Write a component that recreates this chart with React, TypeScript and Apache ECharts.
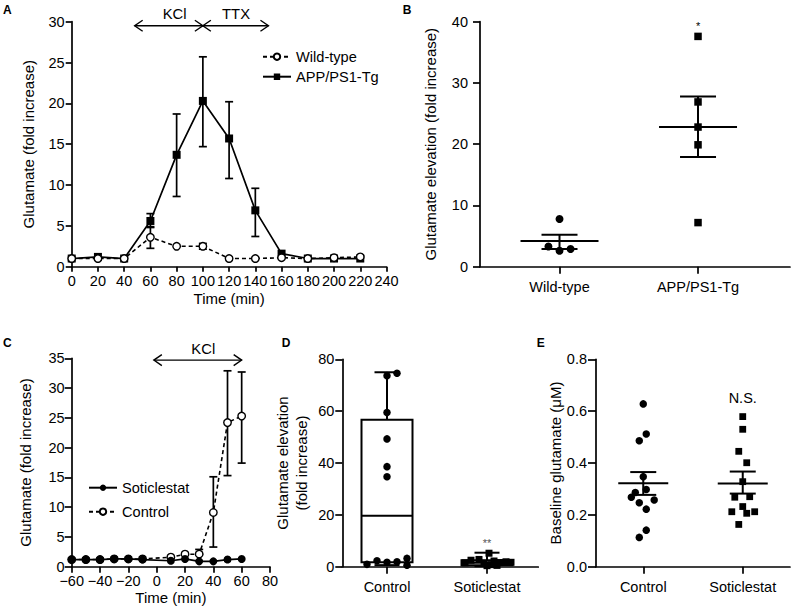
import React, { useEffect, useRef } from 'react';
import * as echarts from 'echarts';

const FONT = '"Liberation Sans", Arial, Helvetica, sans-serif';
const INK = '#000';

// ---------- Panel A ----------
const timeA = [0, 20, 40, 60, 80, 100, 120, 140, 160, 180, 200, 220];
const appMeanA = [1.0, 1.2, 1.0, 5.6, 13.7, 20.3, 15.7, 6.9, 1.6, 1.0, 1.0, 1.0];
const appLowA = [null, null, null, 4.8, 8.6, 14.7, 10.8, 3.7, null, null, null, null];
const appHighA = [null, null, null, 6.5, 18.7, 25.7, 20.2, 9.6, null, null, null, null];
const wtMeanA = [1.0, 1.0, 1.0, 3.6, 2.5, 2.5, 1.0, 1.0, 1.1, 1.0, 1.1, 1.2];
const wtLowA = [null, null, null, 2.25, null, 2.15, null, null, null, null, null, null];
const wtHighA = [null, null, null, 4.9, null, 2.85, null, null, null, null, null, null];
const arrowLabelsA = ['KCl', 'TTX'];
const arrowFromA = [48, 100];
const arrowToA = [100, 150];
const arrowLevelA = 29.5;
const arrowLabelXA = [78.5, 125.3];
const arrowLabelYA = 31.0;

// ---------- Panel B ----------
const groupsB = ['Wild-type', 'APP/PS1-Tg'];
const wtValuesB = [7.8, 3.3, 2.6, 2.9];
const wtJitterB = [0, -0.08, 0, 0.08];
const appValuesB = [37.6, 26.9, 22.8, 19.9, 7.2];
const appJitterB = [0, 0, 0, 0, 0];
const meanB = [4.2, 22.8];
const semLowB = [2.9, 17.9];
const semHighB = [5.2, 27.8];
const starB = ['*'];
const starPosB = [[2, 39.3]];

// ---------- Panel C ----------
const timeC = [-60, -50, -40, -30, -20, -10, 10, 20, 30, 40, 50, 60];
const sotiC = [1.2, 1.2, 1.2, 1.3, 1.3, 1.2, 1.0, 1.3, 0.9, 0.9, 1.2, 1.3];
const controlC = [1.2, 1.2, 1.2, 1.3, 1.3, 1.3, 1.6, 2.1, 2.1, 9.1, 24.2, 25.3];
const controlLowC = [null, null, null, null, null, null, null, null, 2.1, 3.3, 15.3, 17.4];
const controlHighC = [null, null, null, null, null, null, null, null, 2.9, 15.1, 32.9, 32.7];
const arrowLabelsC = ['KCl'];
const arrowFromC = [-2];
const arrowToC = [60];
const arrowLevelC = 34.7;
const arrowLabelXC = [32.9];
const arrowLabelYC = 36.6;

// ---------- Panel D ----------
const groupsDE = ['Control', 'Soticlestat'];
const ctrlValuesD = [74.6, 73.7, 59.5, 49.3, 38.6, 34.7, 0.9, 2.3, 1.7, 1.9, 3.2, 0.6];
const ctrlJitterD = [0.1, 0, 0, 0, 0, 0, -0.2, -0.1, 0, 0.1, 0.2, 0.2];
const sotiValuesD = [1.5, 2.5, 2.8, 1.3, 5.2, 0.4, 2.2, 0.8, 1.6, 0.5, 1.9, 1.7];
const sotiJitterD = [-0.22, -0.16, -0.08, -0.03, 0.02, 0.0, 0.07, 0.04, 0.13, 0.1, 0.19, 0.24];
// [min, q1, median, q3, max]
const boxCtrlD = [0.6, 1.7, 19.7, 56.7, 75.0];
const boxSotiD = [0.2, 0.6, 1.5, 2.5, 5.4];
const starD = ['**'];
const starPosD = [[2, 9.1]];

// ---------- Panel E ----------
const ctrlValuesE = [0.628, 0.512, 0.486, 0.347, 0.298, 0.286, 0.268, 0.247, 0.257, 0.222, 0.141, 0.113];
const ctrlJitterE = [0, 0.03, -0.04, 0, 0.03, -0.08, -0.12, -0.04, 0.11, 0.03, 0.03, -0.04];
const sotiValuesE = [0.579, 0.53, 0.445, 0.401, 0.328, 0.268, 0.27, 0.232, 0.212, 0.206, 0.212, 0.163];
const sotiJitterE = [0, 0, -0.04, 0.04, 0, -0.08, 0.07, 0, -0.11, 0.04, 0.12, -0.04];
const meanE = [0.322, 0.321];
const semLowE = [0.277, 0.282];
const semHighE = [0.365, 0.367];
const nsE = ['N.S.'];
const nsPosE = [[2, 0.65]];

// ---------- helpers ----------
const errData = (xs: number[], lo: (number | null)[], hi: (number | null)[]) =>
  xs.map((x, i) => (lo[i] == null ? null : [x, lo[i], hi[i]])).filter((d) => d !== null);

const errorBarRender = (cap: number, lw: number) => (params: any, api: any) => {
  const x = api.value(0);
  const a = api.coord([x, api.value(1)]);
  const b = api.coord([x, api.value(2)]);
  const st = { stroke: INK, lineWidth: lw };
  return {
    type: 'group',
    children: [
      { type: 'line', shape: { x1: a[0], y1: a[1], x2: b[0], y2: b[1] }, style: st },
      { type: 'line', shape: { x1: a[0] - cap, y1: a[1], x2: a[0] + cap, y2: a[1] }, style: st },
      { type: 'line', shape: { x1: b[0] - cap, y1: b[1], x2: b[0] + cap, y2: b[1] }, style: st },
    ],
  };
};

const meanSemRender = (half: number, cap: number, lw: number) => (params: any, api: any) => {
  const x = api.value(0);
  const m = api.coord([x, api.value(1)]);
  const a = api.coord([x, api.value(2)]);
  const b = api.coord([x, api.value(3)]);
  const st = { stroke: INK, lineWidth: lw };
  return {
    type: 'group',
    children: [
      { type: 'line', shape: { x1: m[0] - half, y1: m[1], x2: m[0] + half, y2: m[1] }, style: st },
      { type: 'line', shape: { x1: a[0], y1: a[1], x2: b[0], y2: b[1] }, style: st },
      { type: 'line', shape: { x1: a[0] - cap, y1: a[1], x2: a[0] + cap, y2: a[1] }, style: st },
      { type: 'line', shape: { x1: b[0] - cap, y1: b[1], x2: b[0] + cap, y2: b[1] }, style: st },
    ],
  };
};

const boxRender = (half: number, cap: number, lw: number) => (params: any, api: any) => {
  const x = api.value(0);
  const pMin = api.coord([x, api.value(1)]);
  const pQ1 = api.coord([x, api.value(2)]);
  const pMed = api.coord([x, api.value(3)]);
  const pQ3 = api.coord([x, api.value(4)]);
  const pMax = api.coord([x, api.value(5)]);
  const st = { stroke: INK, lineWidth: lw };
  const cx = pMed[0];
  return {
    type: 'group',
    children: [
      {
        type: 'rect',
        shape: { x: cx - half, y: pQ3[1], width: half * 2, height: pQ1[1] - pQ3[1] },
        style: { fill: 'rgba(0,0,0,0)', stroke: INK, lineWidth: lw },
      },
      { type: 'line', shape: { x1: cx - half, y1: pMed[1], x2: cx + half, y2: pMed[1] }, style: st },
      { type: 'line', shape: { x1: cx, y1: pQ3[1], x2: cx, y2: pMax[1] }, style: st },
      { type: 'line', shape: { x1: cx - cap, y1: pMax[1], x2: cx + cap, y2: pMax[1] }, style: st },
      { type: 'line', shape: { x1: cx, y1: pQ1[1], x2: cx, y2: pMin[1] }, style: st },
      { type: 'line', shape: { x1: cx - cap, y1: pMin[1], x2: cx + cap, y2: pMin[1] }, style: st },
    ],
  };
};

const arrowRender = (labels: string[]) => (params: any, api: any) => {
  const a = api.coord([api.value(0), api.value(2)]);
  const b = api.coord([api.value(1), api.value(2)]);
  const lp = api.coord([api.value(3), api.value(4)]);
  const st = { stroke: INK, lineWidth: 1.4, fill: null };
  const h = 5.5;
  const w = 8;
  return {
    type: 'group',
    children: [
      { type: 'line', shape: { x1: a[0], y1: a[1], x2: b[0], y2: b[1] }, style: st },
      { type: 'polyline', shape: { points: [[a[0] + w, a[1] - h], [a[0], a[1]], [a[0] + w, a[1] + h]] }, style: st },
      { type: 'polyline', shape: { points: [[b[0] - w, b[1] - h], [b[0], b[1]], [b[0] - w, b[1] + h]] }, style: st },
      {
        type: 'text',
        x: lp[0],
        y: lp[1],
        style: {
          text: labels[params.dataIndex],
          fontSize: 14.8,
          fontFamily: FONT,
          fill: INK,
          align: 'center',
          verticalAlign: 'middle',
        },
      },
    ],
  };
};

const textRender = (texts: string[], size: number, color: string) => (params: any, api: any) => {
  const p = api.coord([api.value(0), api.value(1)]);
  return {
    type: 'text',
    x: p[0],
    y: p[1],
    style: {
      text: texts[params.dataIndex],
      fontSize: size,
      fontFamily: FONT,
      fill: color,
      align: 'center',
      verticalAlign: 'middle',
    },
  };
};

const axisLineStyle = { show: true, onZero: false, lineStyle: { color: INK, width: 1.7 } };
const tick = (len: number, custom?: number[]) => ({
  show: true,
  length: len,
  lineStyle: { color: INK, width: 1.7 },
  ...(custom ? { customValues: custom } : {}),
});
const label = (margin: number, extra: any = {}) => ({
  color: INK,
  fontSize: 14.5,
  fontFamily: FONT,
  margin,
  ...extra,
});
const nameStyle = { color: INK, fontSize: 15, fontFamily: FONT };

function buildOption(): any {
  const grids = [
    { left: 71.7, top: 21.7, width: 314.8, height: 245 },
    { left: 480, top: 21.7, width: 310, height: 245 },
    { left: 71.7, top: 358.3, width: 198.3, height: 208.4 },
    { left: 342.3, top: 359.3, width: 196, height: 207.4 },
    { left: 596, top: 359.3, width: 194, height: 207.4 },
  ].map((g) => ({ ...g, containLabel: false, outerBoundsMode: 'none' }));

  const xAxis = [
    {
      type: 'value', gridIndex: 0, min: 0, max: 240, interval: 20,
      axisLine: axisLineStyle, axisTick: tick(5), axisLabel: label(7), splitLine: { show: false },
      name: 'Time (min)', nameLocation: 'middle', nameGap: 24, nameTextStyle: nameStyle,
    },
    {
      type: 'value', gridIndex: 1, min: 0.426, max: 2.664,
      axisLine: axisLineStyle, axisTick: tick(7, [1, 2]),
      axisLabel: label(13, { customValues: [1, 2], formatter: (v: number) => groupsB[Math.round(v) - 1] }),
      splitLine: { show: false },
    },
    {
      type: 'value', gridIndex: 2, min: -60, max: 80, interval: 20,
      axisLine: axisLineStyle, axisTick: tick(6),
      axisLabel: label(7, { formatter: (v: number) => (v < 0 ? '\u2212' + Math.abs(v) : String(v)) }),
      splitLine: { show: false },
      name: 'Time (min)', nameLocation: 'middle', nameGap: 19.5, nameTextStyle: nameStyle,
    },
    {
      type: 'value', gridIndex: 3, min: 0.553, max: 2.513,
      axisLine: axisLineStyle, axisTick: tick(7, [1, 2]),
      axisLabel: label(13, { customValues: [1, 2], formatter: (v: number) => groupsDE[Math.round(v) - 1] }),
      splitLine: { show: false },
    },
    {
      type: 'value', gridIndex: 4, min: 0.525, max: 2.475,
      axisLine: axisLineStyle, axisTick: tick(7, [1, 2]),
      axisLabel: label(13, { customValues: [1, 2], formatter: (v: number) => groupsDE[Math.round(v) - 1] }),
      splitLine: { show: false },
    },
  ];

  const yAxis = [
    {
      type: 'value', gridIndex: 0, min: 0, max: 30, interval: 5,
      axisLine: axisLineStyle, axisTick: tick(6), axisLabel: label(7), splitLine: { show: false },
      name: 'Glutamate (fold increase)', nameLocation: 'middle', nameGap: 36, nameTextStyle: nameStyle,
    },
    {
      type: 'value', gridIndex: 1, min: 0, max: 40, interval: 10,
      axisLine: axisLineStyle, axisTick: tick(7), axisLabel: label(12), splitLine: { show: false },
      name: 'Glutamate elevation (fold increase)', nameLocation: 'middle', nameGap: 42.5, nameTextStyle: nameStyle,
    },
    {
      type: 'value', gridIndex: 2, min: 0, max: 35, interval: 5,
      axisLine: axisLineStyle, axisTick: tick(7), axisLabel: label(7), splitLine: { show: false },
      name: 'Glutamate (fold increase)', nameLocation: 'middle', nameGap: 38.5, nameTextStyle: nameStyle,
    },
    {
      type: 'value', gridIndex: 3, min: 0, max: 80, interval: 20,
      axisLine: axisLineStyle, axisTick: tick(7), axisLabel: label(8), splitLine: { show: false },
      name: 'Glutamate elevation\n(fold increase)', nameLocation: 'middle', nameGap: 32,
      nameTextStyle: { ...nameStyle, lineHeight: 18.5 },
    },
    {
      type: 'value', gridIndex: 4, min: 0, max: 0.8, interval: 0.2,
      axisLine: axisLineStyle, axisTick: tick(8),
      axisLabel: label(9, { formatter: (v: number) => v.toFixed(1) }), splitLine: { show: false },
      name: 'Baseline glutamate (\u03bcM)', nameLocation: 'middle', nameGap: 32.5, nameTextStyle: nameStyle,
    },
  ];

  const openCircle = { color: '#fff', borderColor: INK, borderWidth: 1.4, opacity: 1 };
  const filled = { color: INK, opacity: 1 };

  const series: any[] = [
    // ---- A ----
    {
      name: 'APP/PS1-Tg', type: 'line', xAxisIndex: 0, yAxisIndex: 0,
      data: timeA.map((t, i) => [t, appMeanA[i]]),
      symbol: 'rect', symbolSize: 8, lineStyle: { color: INK, width: 1.7 }, itemStyle: filled, z: 3,
    },
    {
      name: 'errA-app', type: 'custom', xAxisIndex: 0, yAxisIndex: 0,
      data: errData(timeA, appLowA, appHighA), renderItem: errorBarRender(4, 1.7), z: 2,
    },
    {
      name: 'errA-wt', type: 'custom', xAxisIndex: 0, yAxisIndex: 0,
      data: errData(timeA, wtLowA, wtHighA), renderItem: errorBarRender(4, 1.7), z: 2,
    },
    {
      name: 'Wild-type', type: 'line', xAxisIndex: 0, yAxisIndex: 0,
      data: timeA.map((t, i) => [t, wtMeanA[i]]),
      symbol: 'circle', symbolSize: 7.5, lineStyle: { color: INK, width: 1.6, type: [4, 3] },
      itemStyle: openCircle, z: 4,
    },
    {
      name: 'arrowsA', type: 'custom', xAxisIndex: 0, yAxisIndex: 0,
      data: arrowLabelsA.map((_, i) => [arrowFromA[i], arrowToA[i], arrowLevelA, arrowLabelXA[i], arrowLabelYA]),
      renderItem: arrowRender(arrowLabelsA),
    },
    // ---- B ----
    {
      name: 'B-wt', type: 'scatter', xAxisIndex: 1, yAxisIndex: 1,
      data: wtValuesB.map((v, i) => [1 + wtJitterB[i], v]),
      symbol: 'circle', symbolSize: 8, itemStyle: filled,
    },
    {
      name: 'B-app', type: 'scatter', xAxisIndex: 1, yAxisIndex: 1,
      data: appValuesB.map((v, i) => [2 + appJitterB[i], v]),
      symbol: 'rect', symbolSize: 7.5, itemStyle: filled,
    },
    {
      name: 'B-mean', type: 'custom', xAxisIndex: 1, yAxisIndex: 1,
      data: meanB.map((m, i) => [i + 1, m, semLowB[i], semHighB[i]]),
      renderItem: meanSemRender(39, 18, 2),
    },
    {
      name: 'B-star', type: 'custom', xAxisIndex: 1, yAxisIndex: 1,
      data: starPosB, renderItem: textRender(starB, 11, INK),
    },
    // ---- C ----
    {
      name: 'errC', type: 'custom', xAxisIndex: 2, yAxisIndex: 2,
      data: errData(timeC, controlLowC, controlHighC), renderItem: errorBarRender(4, 1.7), z: 2,
    },
    {
      name: 'Control', type: 'line', xAxisIndex: 2, yAxisIndex: 2,
      data: timeC.map((t, i) => [t, controlC[i]]),
      symbol: 'circle', symbolSize: 7.5, lineStyle: { color: INK, width: 1.6, type: [4, 3] },
      itemStyle: openCircle, z: 3,
    },
    {
      name: 'Soticlestat', type: 'line', xAxisIndex: 2, yAxisIndex: 2,
      data: timeC.map((t, i) => [t, sotiC[i]]),
      symbol: 'circle', symbolSize: 8, lineStyle: { color: INK, width: 1.7 }, itemStyle: filled, z: 4,
    },
    {
      name: 'arrowsC', type: 'custom', xAxisIndex: 2, yAxisIndex: 2,
      data: arrowLabelsC.map((_, i) => [arrowFromC[i], arrowToC[i], arrowLevelC, arrowLabelXC[i], arrowLabelYC]),
      renderItem: arrowRender(arrowLabelsC),
    },
    // ---- D ----
    {
      name: 'D-box', type: 'custom', xAxisIndex: 3, yAxisIndex: 3,
      data: [[1, ...boxCtrlD], [2, ...boxSotiD]],
      renderItem: boxRender(25.5, 12.5, 2), z: 2,
    },
    {
      name: 'D-ctrl', type: 'scatter', xAxisIndex: 3, yAxisIndex: 3,
      data: ctrlValuesD.map((v, i) => [1 + ctrlJitterD[i], v]),
      symbol: 'circle', symbolSize: 7.5, itemStyle: filled, z: 3,
    },
    {
      name: 'D-soti', type: 'scatter', xAxisIndex: 3, yAxisIndex: 3,
      data: sotiValuesD.map((v, i) => [2 + sotiJitterD[i], v]),
      symbol: 'rect', symbolSize: 7, itemStyle: filled, z: 3,
    },
    {
      name: 'D-star', type: 'custom', xAxisIndex: 3, yAxisIndex: 3,
      data: starPosD, renderItem: textRender(starD, 11, '#555'),
    },
    // ---- E ----
    {
      name: 'E-ctrl', type: 'scatter', xAxisIndex: 4, yAxisIndex: 4,
      data: ctrlValuesE.map((v, i) => [1 + ctrlJitterE[i], v]),
      symbol: 'circle', symbolSize: 7.5, itemStyle: filled,
    },
    {
      name: 'E-soti', type: 'scatter', xAxisIndex: 4, yAxisIndex: 4,
      data: sotiValuesE.map((v, i) => [2 + sotiJitterE[i], v]),
      symbol: 'rect', symbolSize: 6.8, itemStyle: filled,
    },
    {
      name: 'E-mean', type: 'custom', xAxisIndex: 4, yAxisIndex: 4,
      data: meanE.map((m, i) => [i + 1, m, semLowE[i], semHighE[i]]),
      renderItem: meanSemRender(25, 13, 2),
    },
    {
      name: 'E-ns', type: 'custom', xAxisIndex: 4, yAxisIndex: 4,
      data: nsPosE, renderItem: textRender(nsE, 14.5, INK),
    },
  ];

  const legendBase = {
    orient: 'vertical',
    itemWidth: 28,
    itemHeight: 8,
    textStyle: { color: INK, fontSize: 14.6, fontFamily: FONT, lineHeight: 16 },
    selectedMode: false,
    padding: 0,
  };

  const panelLetter = (text: string, x: number, y: number) => ({
    type: 'text',
    left: x,
    top: y,
    style: { text, fontSize: 12, fontWeight: 'bold', fontFamily: FONT, fill: INK },
  });

  return {
    animation: false,
    backgroundColor: '#fff',
    textStyle: { fontFamily: FONT },
    grid: grids,
    xAxis,
    yAxis,
    series,
    legend: [
      { ...legendBase, data: ['Wild-type', 'APP/PS1-Tg'], left: 262, top: 48.7, itemGap: 4 },
      { ...legendBase, data: ['Soticlestat', 'Control'], left: 88, top: 479.7, itemGap: 8 },
    ],
    graphic: [
      panelLetter('A', 3, 4),
      panelLetter('B', 402.7, 4),
      panelLetter('C', 3, 337),
      panelLetter('D', 281.7, 337),
      panelLetter('E', 536.7, 337),
    ],
  };
}

export default function App() {
  const ref = useRef<HTMLDivElement>(null);
  useEffect(() => {
    document.body.style.margin = '0';
    if (!ref.current) return;
    const chart = echarts.init(ref.current, undefined, { renderer: 'svg' });
    chart.setOption(buildOption());
    return () => chart.dispose();
  }, []);
  return <div ref={ref} style={{ width: 794, height: 608 }} />;
}
